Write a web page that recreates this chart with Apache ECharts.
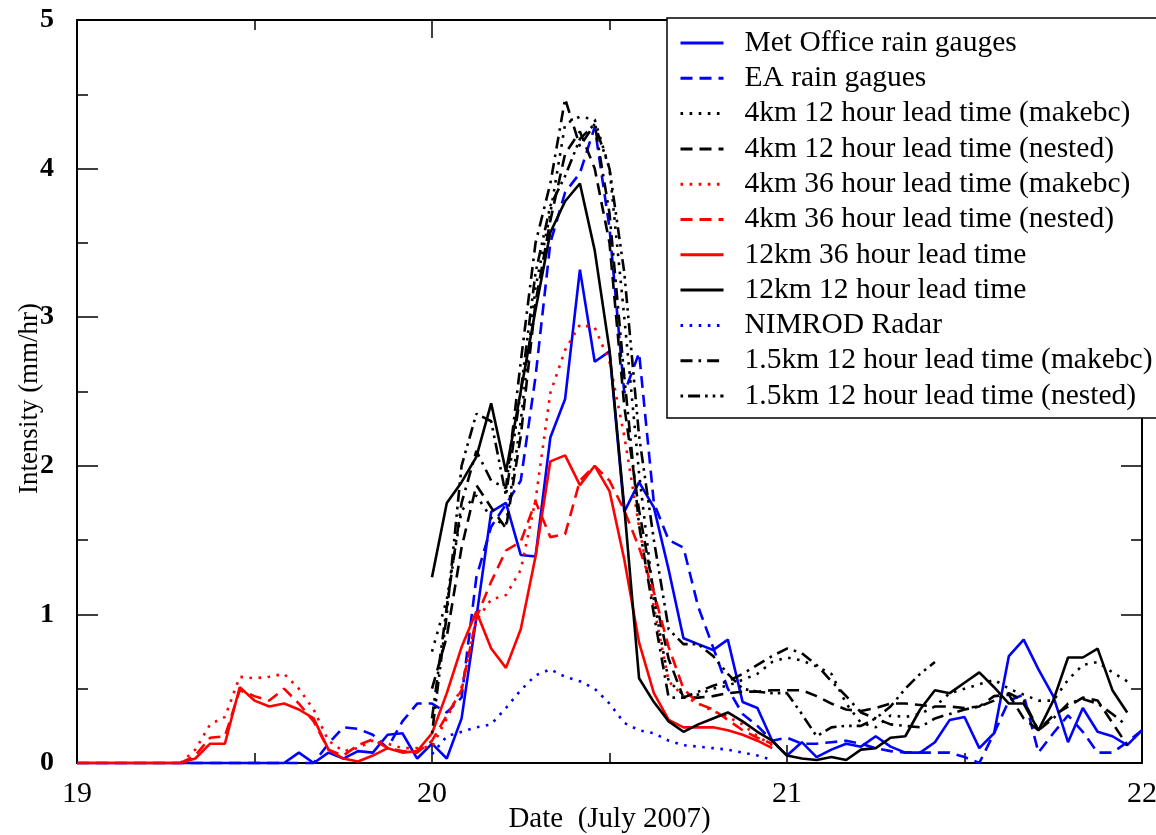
<!DOCTYPE html>
<html>
<head>
<meta charset="utf-8">
<title>Intensity</title>
<script src="https://cdn.jsdelivr.net/npm/echarts/dist/echarts.min.js"></script>
<style>
    html, body { margin: 0; padding: 0; background: #fff; }
    #chart { width: 1156px; height: 835px; }
</style>
</head>
<body>
<div id="chart"></div>
<script>
// hourly values, first point given by the start hour (hours after 19 July 00:00)
var xTicks = [19, 20, 21, 22];

var metOfficeStart = 0;
var metOffice = [0, 0, 0, 0, 0, 0, 0, 0, 0, 0, 0, 0, 0, 0, 0,
    0.07, 0, 0.07, 0.03, 0.08, 0.07, 0.19, 0.2, 0.03, 0.13,
    0.03, 0.3, 0.98, 1.69, 1.75, 1.4, 1.39, 2.19, 2.45, 3.32,
    2.7, 2.77, 1.69, 1.89, 1.72, 1.3, 0.84, 0.8, 0.76, 0.83,
    0.41, 0.37, 0.15, 0.05, 0.14, 0.04, 0.09, 0.13, 0.11, 0.18,
    0.11, 0.07, 0.07, 0.14, 0.29, 0.31, 0.1, 0.2, 0.72, 0.83,
    0.63, 0.45, 0.14, 0.37, 0.21, 0.18, 0.12, 0.22];

var eaStart = 0;
var eaGauges = [0, 0, 0, 0, 0, 0, 0, 0, 0, 0, 0, 0, 0, 0, 0, 0, 0,
    0.13, 0.24, 0.23, 0.19, 0.1, 0.28, 0.4, 0.4, 0.34, 0.44,
    1.25, 1.59, 1.74, 1.9, 2.6, 3.5, 3.84, 3.97, 4.28, 3.6,
    2.49, 2.76, 1.75, 1.5, 1.45, 1.05, 0.78, 0.5, 0.33, 0.25,
    0.15, 0.17, 0.13, 0.13, 0.14, 0.15, 0.13, 0.1, 0.08, 0.07,
    0.07, 0.07, 0.07, 0.04, 0, 0.2, 0.42, 0.46, 0.07, 0.2,
    0.32, 0.21, 0.07, 0.07, 0.14, 0.22];

var km4_12_makebcStart = 24;
var km4_12_makebc = [0.75, 1.1, 1.7, 1.8, 1.65, 1.6, 2.3, 3.2, 3.7, 4.3,
    4.35, 4.33, 4.0, 3.0, 1.95, 1.1, 0.55, 0.46, 0.46, 0.5,
    0.52, 0.56, 0.6, 0.68, 0.71, 0.69, 0.65, 0.6, 0.4, 0.27,
    0.24, 0.32, 0.31, 0.33, 0.38, 0.47, 0.5, 0.53, 0.56, 0.5,
    0.46, 0.42, 0.42, 0.56, 0.66, 0.68, 0.61, 0.55];

var km4_12_nestedStart = 24;
var km4_12_nested = [0.5, 0.85, 1.45, 1.87, 1.72, 1.58, 2.2, 3.1, 3.65, 4.1,
    4.25, 4.0, 3.5, 2.4, 1.7, 1.15, 0.7, 0.44, 0.44, 0.45,
    0.47, 0.48, 0.48, 0.49, 0.49, 0.49, 0.45, 0.4, 0.36, 0.35,
    0.37, 0.4, 0.4, 0.39, 0.38, 0.38, 0.37, 0.38, 0.45, 0.46,
    0.3, 0.22, 0.32, 0.38, 0.44, 0.42, 0.27, 0.12];

var km4_36_makebcStart = 7;
var km4_36_makebc = [0, 0.09, 0.26, 0.31, 0.58, 0.57, 0.58, 0.6, 0.5, 0.36,
    0.15, 0.08, 0.1, 0.15, 0.13, 0.1, 0.1, 0.11, 0.3, 0.51,
    0.96, 1.1, 1.13, 1.3, 1.77, 2.49, 2.78, 2.95, 2.93, 2.7,
    2.2, 1.59, 1.05, 0.55, 0.45, 0.4, 0.35, 0.31, 0.26, 0.18, 0.12];

var km4_36_nestedStart = 7;
var km4_36_nested = [0, 0.05, 0.17, 0.18, 0.49, 0.45, 0.42, 0.5, 0.4, 0.28,
    0.09, 0.05, 0.12, 0.16, 0.1, 0.08, 0.07, 0.15, 0.32, 0.49,
    0.98, 1.22, 1.43, 1.49, 1.76, 1.52, 1.54, 1.9, 2.0, 1.9,
    1.7, 1.45, 1.15, 0.78, 0.5, 0.4, 0.36, 0.29, 0.22, 0.17, 0.13];

var km12_36Start = 0;
var km12_36 = [0, 0, 0, 0, 0, 0, 0, 0,
    0.03, 0.13, 0.13, 0.51, 0.42, 0.38, 0.40, 0.36, 0.30, 0.09,
    0.03, 0.01, 0.05, 0.10, 0.07, 0.08, 0.2, 0.47, 0.78, 1.02,
    0.77, 0.64, 0.9, 1.39, 2.03, 2.07, 1.87, 2.0, 1.83, 1.37,
    0.81, 0.47, 0.29, 0.24, 0.24, 0.24, 0.22, 0.19, 0.15, 0.10];

var km12_12Start = 24;
var km12_12 = [1.25, 1.75, 1.89, 2.06, 2.42, 1.96, 2.5, 3.05, 3.57, 3.78,
    3.9, 3.45, 2.78, 1.72, 0.57, 0.41, 0.28, 0.21, 0.26, 0.3,
    0.34, 0.28, 0.21, 0.15, 0.05, 0.03, 0.02, 0.04, 0.02, 0.09,
    0.1, 0.17, 0.18, 0.36, 0.49, 0.47, 0.54, 0.61, 0.51, 0.4,
    0.4, 0.22, 0.42, 0.71, 0.71, 0.77, 0.49, 0.34];

var nimrodStart = 24;
var nimrod = [0.06, 0.18, 0.21, 0.24, 0.26, 0.37, 0.49, 0.59, 0.63, 0.58,
    0.55, 0.5, 0.4, 0.27, 0.22, 0.2, 0.15, 0.12, 0.11, 0.1,
    0.09, 0.07, 0.05, 0.02];

var km15_makebcStart = 24;
var km15_makebc = [0.3, 1.05, 1.75, 2.1, 1.9, 1.85, 2.7, 3.5, 3.9, 4.47,
    4.15, 4.3, 3.7, 2.6, 1.6, 1.0, 0.44, 0.44, 0.48, 0.52,
    0.55, 0.6, 0.66, 0.72, 0.77, 0.74, 0.66, 0.55, 0.45, 0.34,
    0.3, 0.26, 0.25, 0.24, 0.3, 0.33, 0.36, 0.38, 0.42, 0.47,
    0.42, 0.22, 0.3, 0.4, 0.43, 0.4, 0.33, 0.25];

var km15_nestedStart = 24;
var km15_nested = [0.2, 1.0, 2.0, 2.35, 2.3, 1.8, 2.5, 3.3, 3.75, 3.95,
    4.2, 4.3, 4.0, 3.3, 2.2, 1.5, 0.9, 0.8, 0.8, 0.72,
    0.6, 0.5, 0.48, 0.47, 0.47, 0.33, 0.18, 0.24, 0.25, 0.25,
    0.3, 0.38, 0.5, 0.6, 0.68];

var names = [
    "Met Office rain gauges",
    "EA rain gagues",
    "4km 12 hour lead time (makebc)",
    "4km 12 hour lead time (nested)",
    "4km 36 hour lead time (makebc)",
    "4km 36 hour lead time (nested)",
    "12km 36 hour lead time",
    "12km 12 hour lead time",
    "NIMROD Radar",
    "1.5km 12 hour lead time (makebc)",
    "1.5km 12 hour lead time (nested)",
];

function toPoints(start, values) {
    return values.map(function (v, i) {
        return [19 + (start + i) / 24, v];
    });
}

var LW = 2.6;
var DOT = [2.6, 6.5];
var DASH = [12, 7];
var DASHDOT = [12, 6, 2.6, 6];
var DASHDOTDOT = [2.6, 5, 12, 5, 2.6, 5];

function makeSeries(name, color, dash, start, values) {
    return {
        name: name,
        type: "line",
        data: toPoints(start, values),
        symbol: "none",
        clip: false,
        animation: false,
        color: color,
        lineStyle: { color: color, width: LW, type: dash },
        emphasis: { disabled: true },
    };
}

var series = [
    makeSeries(names[0], "#0000ff", "solid", metOfficeStart, metOffice),
    makeSeries(names[1], "#0000ff", DASH, eaStart, eaGauges),
    makeSeries(names[2], "#000000", DOT, km4_12_makebcStart, km4_12_makebc),
    makeSeries(names[3], "#000000", DASH, km4_12_nestedStart, km4_12_nested),
    makeSeries(names[4], "#ff0000", DOT, km4_36_makebcStart, km4_36_makebc),
    makeSeries(names[5], "#ff0000", DASH, km4_36_nestedStart, km4_36_nested),
    makeSeries(names[6], "#ff0000", "solid", km12_36Start, km12_36),
    makeSeries(names[7], "#000000", "solid", km12_12Start, km12_12),
    makeSeries(names[8], "#0000ff", DOT, nimrodStart, nimrod),
    makeSeries(names[9], "#000000", DASHDOT, km15_makebcStart, km15_makebc),
    makeSeries(names[10], "#000000", DASHDOTDOT, km15_nestedStart, km15_nested),
];

var serif = "'Liberation Serif', 'Times New Roman', serif";
var axisLine = { show: true, onZero: false, lineStyle: { color: "#000", width: 2 } };

var myChart = echarts.init(document.getElementById("chart"));
var option = {
    backgroundColor: "#fff",
    animation: false,
    grid: { left: 77, right: 14, top: 20, bottom: 72, containLabel: false, outerBoundsMode: "none" },
    legend: {
        data: names,
        orient: "vertical",
        left: 667,
        top: 18,
        padding: [10, 40, 7, 12],
        itemWidth: 43,
        itemHeight: 14,
        itemGap: 5.3,
        backgroundColor: "#fff",
        borderColor: "#000",
        borderWidth: 1.5,
        borderRadius: 0,
        selectedMode: false,
        itemStyle: { opacity: 0 },
        lineStyle: { width: 3 },
        textStyle: {
            fontFamily: serif,
            fontSize: 29.5,
            color: "#000",
            lineHeight: 30,
            padding: [0, 0, 0, 16],
        },
    },
    xAxis: [
        {
            type: "value",
            min: 19,
            max: 22,
            interval: 1,
            name: "Date  (July 2007)",
            nameLocation: "middle",
            nameGap: 42,
            nameMoveOverlap: false,
            nameTextStyle: { fontFamily: serif, fontSize: 29, color: "#000" },
            axisLine: axisLine,
            axisTick: { show: true, inside: true, length: 18, lineStyle: { color: "#000", width: 1.5 } },
            minorTick: { show: true, splitNumber: 2, length: 10, lineStyle: { color: "#000", width: 1.5 } },
            splitLine: { show: false },
            axisLabel: {
                fontFamily: serif,
                fontSize: 30,
                color: "#000",
                margin: 16,
                formatter: function (v) {
                    return xTicks.indexOf(v) >= 0 ? String(v) : "";
                },
            },
        },
        {
            type: "value",
            position: "top",
            min: 19,
            max: 22,
            interval: 1,
            axisLine: axisLine,
            axisTick: { show: true, inside: true, length: 18, lineStyle: { color: "#000", width: 1.5 } },
            minorTick: { show: true, splitNumber: 2, length: 10, lineStyle: { color: "#000", width: 1.5 } },
            splitLine: { show: false },
            axisLabel: { show: false },
        },
    ],
    yAxis: [
        {
            type: "value",
            min: 0,
            max: 5,
            interval: 1,
            name: "Intensity (mm/hr)",
            nameLocation: "middle",
            nameGap: 34,
            nameMoveOverlap: false,
            nameRotate: 90,
            nameTextStyle: { fontFamily: serif, fontSize: 27, color: "#000", padding: [0, 14, 0, 0] },
            axisLine: axisLine,
            axisTick: { show: true, inside: true, length: 21, lineStyle: { color: "#000", width: 1.5 } },
            minorTick: { show: true, splitNumber: 2, length: 11, lineStyle: { color: "#000", width: 1.5 } },
            splitLine: { show: false },
            axisLabel: {
                fontFamily: serif,
                fontSize: 28,
                fontWeight: "bold",
                color: "#000",
                margin: 23,
            },
        },
        {
            type: "value",
            position: "right",
            min: 0,
            max: 5,
            interval: 1,
            axisLine: axisLine,
            axisTick: { show: true, inside: true, length: 21, lineStyle: { color: "#000", width: 1.5 } },
            minorTick: { show: true, splitNumber: 2, length: 11, lineStyle: { color: "#000", width: 1.5 } },
            splitLine: { show: false },
            axisLabel: { show: false },
        },
    ],
    series: series,
};
myChart.setOption(option);
</script>
</body>
</html>
